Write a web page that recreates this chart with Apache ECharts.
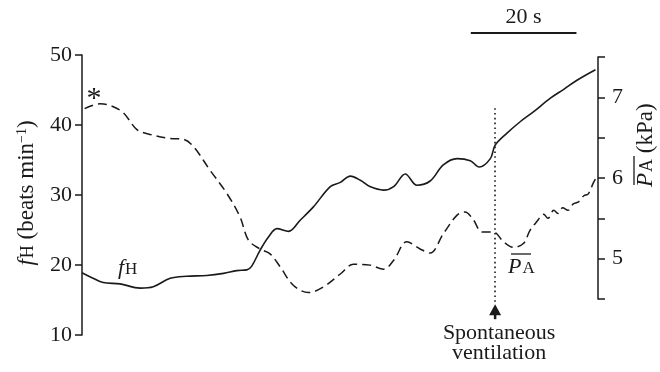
<!DOCTYPE html>
<html>
<head>
<meta charset="utf-8">
<script src="https://cdn.jsdelivr.net/npm/echarts@6/dist/echarts.min.js"></script>
<style>
  html, body { margin: 0; padding: 0; background: #fff; }
  #chart { width: 660px; height: 372px; }
</style>
</head>
<body>
<div id="chart"></div>
<script>
// Heart rate (beats/min) against time (s)
const heartTime = [0, 2.1, 4.0, 7.2, 11.0, 13.5, 16.7, 19.8, 23.6, 26.8, 29.3, 31.2, 32.1, 33.7, 35.3, 36.9, 39.1, 41.3, 43.8, 47.0, 48.9, 50.8, 52.7, 54.5, 57.1, 59.0, 61.2, 63.4, 65.9, 68.4, 71.0, 73.5, 75.2, 77.3, 78.2, 80.4, 83.0, 85.5, 88.6, 91.2, 93.7, 97.2];
const heartRate = [18.9, 18.1, 17.5, 17.3, 16.7, 16.9, 18.1, 18.4, 18.5, 18.8, 19.2, 19.3, 19.8, 22.1, 24.0, 25.2, 24.8, 26.4, 28.3, 31.2, 31.8, 32.7, 32.1, 31.2, 30.7, 31.2, 33.0, 31.4, 32.0, 34.3, 35.2, 34.9, 34.0, 35.2, 37.1, 38.8, 40.5, 41.9, 43.8, 45.1, 46.4, 47.9];

// Mean arterial pressure (kPa) against time (s)
const pressureTime = [0.5, 3.4, 5.3, 7.8, 10.4, 12.9, 16.7, 19.2, 21.1, 24.2, 27.4, 29.9, 31.5, 33.7, 35.6, 37.5, 40.0, 42.9, 45.7, 48.9, 51.4, 54.5, 57.1, 59.0, 61.5, 64.0, 65.9, 68.4, 71.0, 72.5, 74.1, 75.7, 77.9, 79.8, 81.7, 83.6, 84.8, 86.1, 87.4, 88.2, 89.3, 90.1, 91.0, 92.0, 93.0, 93.9, 95.0, 95.8, 96.8, 97.3];
const pressure = [6.86, 6.92, 6.90, 6.81, 6.60, 6.54, 6.49, 6.48, 6.39, 6.10, 5.81, 5.52, 5.23, 5.12, 5.06, 4.90, 4.67, 4.58, 4.65, 4.81, 4.93, 4.92, 4.87, 4.98, 5.21, 5.12, 5.07, 5.31, 5.54, 5.58, 5.48, 5.33, 5.33, 5.21, 5.14, 5.19, 5.35, 5.46, 5.55, 5.50, 5.60, 5.56, 5.63, 5.60, 5.68, 5.70, 5.78, 5.80, 5.94, 6.0];

const rateTicks = [10, 20, 30, 40, 50];
const pressureTicks = [5, 6, 7];

const ventilationTime = 78.2;     // onset of spontaneous ventilation (s)
const scaleBarStart = 73.6;       // time-scale bar start (s)
const scaleBarLength = 20;        // time-scale bar length (s)
const timeEnd = 97.3;

const SERIF = 'Liberation Serif, Times New Roman, serif';
const INK = '#1a1a1a';
const FS = 22;
const TS = 23;

function richSet(size) {
  return {
    i: { fontFamily: SERIF, fontStyle: 'italic', fontSize: size, fill: INK, verticalAlign: 'bottom' },
    h: { fontFamily: SERIF, fontSize: Math.round(size * 0.77), fill: INK, verticalAlign: 'bottom', padding: [0, 0, 1, 1] },
    r: { fontFamily: SERIF, fontSize: size, fill: INK, verticalAlign: 'bottom' },
    sup: { fontFamily: SERIF, fontSize: Math.round(size * 0.62), fill: INK, verticalAlign: 'top' }
  };
}
const richTitle = richSet(TS);
const richLabel = richSet(FS);

const chart = echarts.init(document.getElementById('chart'), null, { renderer: 'canvas' });

const axisText = { fontFamily: SERIF, fontSize: FS, color: INK };

chart.setOption({
  animation: false,
  backgroundColor: '#fff',
  grid: [
    { left: 82, right: 64, top: 55, bottom: 37 },
    { left: 82, right: 64, top: 57, bottom: 73 }
  ],
  xAxis: [
    { type: 'value', gridIndex: 0, min: 0, max: timeEnd, show: false },
    { type: 'value', gridIndex: 1, min: 0, max: timeEnd, show: false }
  ],
  yAxis: [
    {
      type: 'value', gridIndex: 0, position: 'left',
      min: rateTicks[0], max: rateTicks[rateTicks.length - 1], interval: 10,
      axisLine: { show: true, onZero: false, lineStyle: { color: INK, width: 1.5 } },
      axisTick: { show: true, length: 7, inside: false, lineStyle: { color: INK, width: 1.5 } },
      axisLabel: Object.assign({ margin: 10 }, axisText),
      splitLine: { show: false }
    },
    {
      type: 'value', gridIndex: 1, position: 'right', offset: 2,
      min: 4.5, max: 7.5, interval: 0.5,
      axisLine: { show: true, onZero: false, lineStyle: { color: INK, width: 1.5 } },
      axisTick: { show: true, length: 7, inside: false, lineStyle: { color: INK, width: 1.5 } },
      axisLabel: Object.assign({
        margin: 14,
        formatter: v => pressureTicks.includes(Math.round(v * 100) / 100) ? String(v) : ''
      }, axisText),
      splitLine: { show: false }
    }
  ],
  series: [
    {
      name: 'fH', type: 'line', xAxisIndex: 0, yAxisIndex: 0,
      data: heartTime.map((t, k) => [t, heartRate[k]]),
      smooth: 0.35, symbol: 'none',
      lineStyle: { color: INK, width: 1.6 },
      markLine: {
        silent: true, symbol: ['none', 'none'], label: { show: false },
        lineStyle: { color: INK, type: [1.6, 3.2], width: 1.6 },
        data: [[{ coord: [ventilationTime, 42.4] }, { coord: [ventilationTime, 14.6] }]]
      }
    },
    {
      name: 'PA', type: 'line', xAxisIndex: 1, yAxisIndex: 1,
      data: pressureTime.map((t, k) => [t, pressure[k]]),
      smooth: 0.35, symbol: 'none',
      lineStyle: { color: INK, width: 1.5, type: [9, 5] }
    }
  ]
});

// Annotations placed from the axes' own scales
const px = (t, v) => chart.convertToPixel({ gridIndex: 0 }, [t, v]);
const [barX0] = px(scaleBarStart, 50);
const [barX1] = px(scaleBarStart + scaleBarLength, 50);
const [ventX] = px(ventilationTime, 14.6);
const [, tipY] = px(ventilationTime, 14.4);

chart.setOption({
  graphic: [
    // time-scale bar
    { type: 'line', shape: { x1: barX0, y1: 33, x2: barX1, y2: 33 }, style: { stroke: INK, lineWidth: 2 } },
    { type: 'text', x: (barX0 + barX1) / 2, y: 17,
      style: { text: scaleBarLength + ' s', font: FS + 'px ' + SERIF, fill: INK, align: 'center', verticalAlign: 'middle' } },

    // arrow marking spontaneous ventilation
    { type: 'polygon', shape: { points: [[ventX, tipY], [ventX - 6, tipY + 11], [ventX + 6, tipY + 11]] }, style: { fill: INK } },
    { type: 'line', shape: { x1: ventX, y1: tipY + 10, x2: ventX, y2: tipY + 15 }, style: { stroke: INK, lineWidth: 2.5 } },
    { type: 'text', x: ventX + 4, y: 343,
      style: { text: 'Spontaneous\nventilation', font: FS + 'px ' + SERIF, fill: INK, align: 'center', verticalAlign: 'middle', lineHeight: 20 } },

    // left axis title
    { type: 'text', x: 27, y: 193, rotation: Math.PI / 2,
      style: { text: '{i|f}{h|H}{r| (beats min}{sup|−1}{r|)}', rich: richTitle, align: 'center', verticalAlign: 'middle' } },

    // right axis title with overbar
    { type: 'group', x: 646, y: 140, rotation: Math.PI / 2,
      children: [
        { type: 'text', x: -47, y: 0,
          style: { text: '{i|P}{h|A}{r| (kPa)}', rich: richTitle, align: 'left', verticalAlign: 'middle' } },
        { type: 'line', shape: { x1: -45, y1: -12, x2: -16, y2: -12 }, style: { stroke: INK, lineWidth: 1.3 } }
      ] },

    // series labels
    { type: 'text', x: 118, y: 268,
      style: { text: '{i|f}{h|H}', rich: richLabel, align: 'left', verticalAlign: 'middle' } },
    { type: 'text', x: 508, y: 267,
      style: { text: '{i|P}{h|A}', rich: richLabel, align: 'left', verticalAlign: 'middle' } },
    { type: 'line', shape: { x1: 511, y1: 254, x2: 531, y2: 254 }, style: { stroke: INK, lineWidth: 1.3 } },
    { type: 'text', x: 94, y: 99,
      style: { text: '*', font: '30px ' + SERIF, fill: INK, align: 'center', verticalAlign: 'middle' } }
  ]
});
</script>
</body>
</html>
